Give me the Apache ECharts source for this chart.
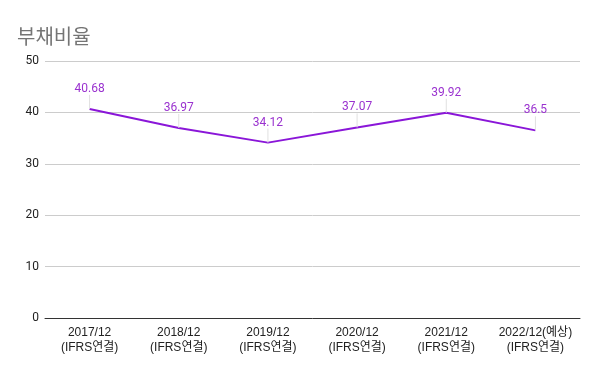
<!DOCTYPE html>
<html><head><meta charset="utf-8">
<script src="https://cdn.jsdelivr.net/npm/echarts@6/dist/echarts.min.js"></script>
<style>html,body{margin:0;padding:0;background:#fff}#c{width:600px;height:371px}</style>
</head><body><div id="c"></div>
<script>
const categories = ['2017/12\n(IFRS연결)','2018/12\n(IFRS연결)','2019/12\n(IFRS연결)','2020/12\n(IFRS연결)','2021/12\n(IFRS연결)','2022/12(예상)\n(IFRS연결)'];
const debtRatio = [40.68, 36.97, 34.12, 37.07, 39.92, 36.5];
const yTicks = {min: 0, max: 50, interval: 10};

const chart = echarts.init(document.getElementById('c'));
chart.setOption({
  animation: false,
  title: {text: '부채비율', left: 12, top: 21, textStyle: {fontFamily: 'Noto Sans CJK KR', fontSize: 20, fontWeight: 'normal', color: '#757575'}},
  grid: {left: 45, right: 20, top: 61, bottom: 53},
  xAxis: {type: 'category', data: categories, boundaryGap: true,
    axisLine: {lineStyle: {color: '#333', width: 1}}, axisTick: {show: false},
    axisLabel: {color: '#222', fontSize: 12, fontFamily: 'Arial, Liberation Sans, Noto Sans CJK KR', lineHeight: 15, margin: 7, interval: 0}},
  yAxis: {type: 'value', min: yTicks.min, max: yTicks.max, interval: yTicks.interval,
    axisLine: {show: false}, axisTick: {show: false},
    splitLine: {lineStyle: {color: '#cccccc'}},
    axisLabel: {color: '#222', fontSize: 12, fontFamily: 'Roboto, Arial', margin: 6}},
  series: [{type: 'line', data: debtRatio, symbol: 'circle', symbolSize: 0.1, showSymbol: true,
    lineStyle: {color: '#8a16d8', width: 2}, itemStyle: {color: 'rgba(0,0,0,0)', borderWidth: 0},
    label: {show: true, position: 'top', distance: 4, color: '#9a32cf', opacity: 1, fontSize: 12, fontFamily: 'Roboto, Arial'},
    labelLayout: {dy: -10},
    labelLine: {show: true, lineStyle: {color: '#e0e0e0', width: 1}}
  }]
});
</script></body></html>
